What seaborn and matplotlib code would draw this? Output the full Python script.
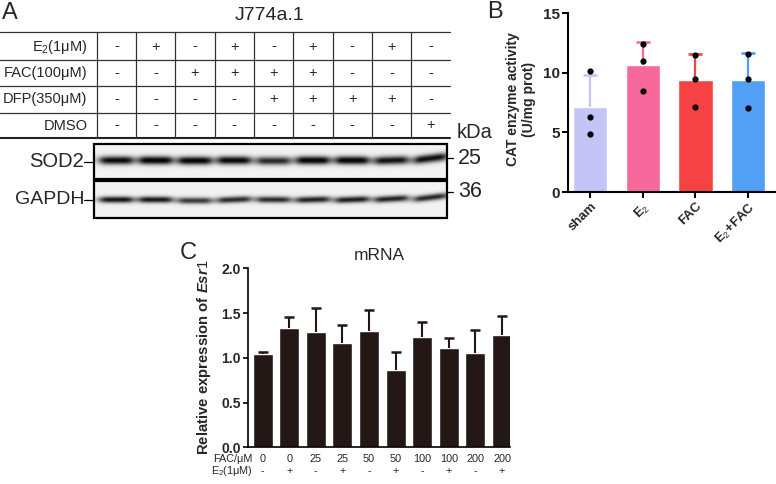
import numpy as np
import pandas as pd
import seaborn as sns
import matplotlib.pyplot as plt
from matplotlib.transforms import blended_transform_factory

sns.set_style('white')
plt.rcParams['font.family'] = ['Liberation Sans', 'DejaVu Sans']
plt.rcParams['mathtext.fontset'] = 'custom'
plt.rcParams['mathtext.rm'] = 'Liberation Sans'
plt.rcParams['mathtext.bf'] = 'Liberation Sans:bold'
plt.rcParams['mathtext.it'] = 'Liberation Sans:italic:bold'

# ---- panel A: treatment table and blot ----
row_labels = ['E$_2$(1μM)', 'FAC(100μM)', 'DFP(350μM)', 'DMSO']
e2_row = ['-', '+', '-', '+', '-', '+', '-', '+', '-']
fac_row = ['-', '-', '+', '+', '+', '+', '-', '-', '-']
dfp_row = ['-', '-', '-', '-', '+', '+', '+', '+', '-']
dmso_row = ['-', '-', '-', '-', '-', '-', '-', '-', '+']
# band darkness per lane (read by eye), vertical offset and tilt
sod2_int = [0.92, 0.97, 0.95, 0.93, 0.78, 0.96, 0.96, 0.88, 0.90]
sod2_dy = [0, 0, 0.3, 0, 0.5, 0, 0, 0, -2.0]
sod2_tilt = [0, 0, 0, 0, 0, 0, 0, -0.03, -0.12]
gapdh_int = [0.88, 0.86, 0.72, 0.78, 0.78, 0.82, 0.84, 0.82, 0.80]
gapdh_dy = [0, 0, 1.0, 0, 0, 0, 0, -0.8, -2.2]
gapdh_tilt = [0, 0, 0, -0.04, 0, -0.03, -0.04, -0.06, -0.12]
markers_kda = ['25', '36']

# ---- panel B: CAT enzyme activity ----
b_groups = ['sham', 'E$_2$', 'FAC', 'E$_2$+FAC']
b_points = {
    'sham': [10.1, 6.3, 4.9],
    'E$_2$': [12.4, 11.0, 8.5],
    'FAC': [11.5, 9.5, 7.15],
    'E$_2$+FAC': [11.6, 9.5, 7.05],
}
b_colors = ['#c4c4f6', '#f7699a', '#f74244', '#529ff6']

# ---- panel C: Esr1 mRNA ----
c_fac = ['0', '0', '25', '25', '50', '50', '100', '100', '200', '200']
c_e2 = ['-', '+', '-', '+', '-', '+', '-', '+', '-', '+']
c_mean = [1.04, 1.33, 1.29, 1.16, 1.30, 0.86, 1.23, 1.11, 1.05, 1.26]
c_upper = [1.07, 1.46, 1.56, 1.37, 1.53, 1.07, 1.40, 1.225, 1.31, 1.47]

fig = plt.figure(figsize=(7.76, 4.84), dpi=100)

ov = fig.add_axes([0, 0, 1, 1])
ov.set_xlim(0, 776)
ov.set_ylim(484, 0)
ov.axis('off')

ov.text(2, 13, 'A', fontsize=17, va='center', ha='left')
ov.text(270, 16, 'J774a.1', fontsize=14, va='center', ha='center')

h_lines = [31.7, 60, 86, 112.7]
for yy in h_lines:
    ov.plot([0, 450], [yy, yy], color='#333333', lw=0.9)
ov.plot([0, 450], [137.5, 137.5], color='#222222', lw=1.5)
col_x0, col_w = 96.7, 39.3
for k in range(9):
    xx = col_x0 + k * col_w
    ov.plot([xx, xx], [31.7, 137.5], color='#333333', lw=0.9)

row_y = [46.5, 73, 99.5, 125.5]
for label, vals, yy in zip(row_labels, [e2_row, fac_row, dfp_row, dmso_row], row_y):
    ov.text(87.5, yy, label, fontsize=10.5, ha='right', va='center')
    for k, v in enumerate(vals):
        ov.text(col_x0 + col_w * (k + 0.5), yy, v, fontsize=10.5, ha='center', va='center')

# blot boxes
lane_x = [col_x0 + col_w * (k + 0.5) for k in range(9)]


def draw_blot(y0, y1, cy, sig, ints, dys, tilts):
    xs = np.linspace(94.3, 446.7, 700)
    ys = np.linspace(y0, y1, 120)
    X, Y = np.meshgrid(xs, ys)
    img = np.full(X.shape, 0.95)
    for cx, it, dy, tl in zip(lane_x, ints, dys, tilts):
        yc = cy + dy + tl * (X - cx)
        prof = np.exp(-((Y - yc) / sig) ** 2) / (1 + ((X - cx) / 16.5) ** 6)
        img -= it * prof * 1.0
    img = np.clip(img, 0.03, 1)
    ov.imshow(img, cmap='gray', vmin=0, vmax=1, extent=[94.3, 446.7, y1, y0],
              aspect='auto', interpolation='bilinear', zorder=1)
    ov.add_patch(plt.Rectangle((94.3, y0), 352.4, y1 - y0, fill=False,
                               ec='black', lw=1.6, zorder=2))


draw_blot(144, 179.3, 161, 4.1, sod2_int, sod2_dy, sod2_tilt)
draw_blot(181, 217.7, 199.5, 3.2, gapdh_int, gapdh_dy, gapdh_tilt)
ov.set_xlim(0, 776)
ov.set_ylim(484, 0)

ov.text(84, 161.5, 'SOD2', fontsize=14.5, ha='right', va='center')
ov.plot([84, 94.3], [161.5, 161.5], color='black', lw=0.9)
ov.text(84, 200, 'GAPDH', fontsize=14, ha='right', va='center')
ov.plot([84, 94.3], [200, 200], color='black', lw=0.9)
ov.text(457, 132.5, 'kDa', fontsize=14.5, ha='left', va='center')
for lab, yy in zip(markers_kda, [158, 191.5]):
    ov.plot([447, 453], [yy, yy], color='black', lw=0.9)
    ov.text(458, yy, lab, fontsize=15.5, ha='left', va='center')


def upper_errorbar(ax, x, y, err, color, capsize, lw):
    eb = ax.errorbar(x, y, yerr=[np.zeros(len(err)), err], fmt='none', ecolor=color,
                     elinewidth=lw, capsize=capsize, capthick=lw + 0.3, zorder=3)
    eb.lines[1][0].set_visible(False)  # hide the cap sitting on the bar top


# ---- panel B ----
rows = [(g, v) for g in b_groups for v in b_points[g]]
dfb = pd.DataFrame(rows, columns=['group', 'value'])
axb = fig.add_axes([568 / 776, 1 - 192 / 484, 208 / 776, 179 / 484])
sns.barplot(data=dfb, x='group', y='value', hue='group', order=b_groups,
            palette=b_colors, errorbar=None, width=0.65, legend=False, ax=axb,
            saturation=1)
stats = dfb.groupby('group', sort=False)['value'].agg(['mean', 'std'])
for i, g in enumerate(b_groups):
    upper_errorbar(axb, [i], [stats.loc[g, 'mean']], [stats.loc[g, 'std']],
                   b_colors[i], 4.8, 1.6)
sns.stripplot(data=dfb, x='group', y='value', order=b_groups, jitter=False,
              color='black', size=4.5, ax=axb, zorder=4)
axb.set_xlim(-0.42, 3.53)
axb.set_ylim(0, 15)
axb.set_yticks([0, 5, 10, 15])
axb.set_xlabel('')
axb.set_ylabel('')
sns.despine(ax=axb)
for s in ['left', 'bottom']:
    axb.spines[s].set_linewidth(1.5)
    axb.spines[s].set_color('black')
axb.tick_params(axis='both', direction='out', length=4, width=1.4, color='black',
                labelsize=11, pad=2, left=True, bottom=True)
for t in axb.get_yticklabels():
    t.set_fontweight('bold')
axb.set_xticks(range(4))
axb.set_xticklabels(b_groups, rotation=45, ha='right', rotation_mode='anchor',
                    fontweight='bold', fontsize=9.5)
fig.text(521 / 776, 1 - 99 / 484, 'CAT enzyme activity\n(U/mg prot)', rotation=90,
         ha='center', va='center', fontsize=10, fontweight='bold', linespacing=1.1)
fig.text(495 / 776, 1 - 12 / 484, 'B', fontsize=17, ha='center', va='center')

# ---- panel C ----
conds = [f + e for f, e in zip(c_fac, c_e2)]
dfc = pd.DataFrame({'cond': conds, 'mean': c_mean})
axc = fig.add_axes([248 / 776, 1 - 447.3 / 484, 262 / 776, 179 / 484])
sns.barplot(data=dfc, x='cond', y='mean', color='#231815', saturation=1,
            errorbar=None, width=0.75, ax=axc)
up = np.array(c_upper) - np.array(c_mean)
upper_errorbar(axc, list(range(len(conds))), c_mean, up, '#231815', 3.6, 1.5)
axc.set_xlim(-0.55, 9.3)
axc.set_ylim(0, 2.0)
axc.set_yticks([0, 0.5, 1.0, 1.5, 2.0])
axc.set_yticklabels(['0.0', '0.5', '1.0', '1.5', '2.0'], fontweight='bold')
axc.set_xticks([])
axc.set_xlabel('')
axc.set_ylabel('')
sns.despine(ax=axc)
for s in ['left', 'bottom']:
    axc.spines[s].set_linewidth(1.2)
    axc.spines[s].set_color('black')
axc.tick_params(axis='y', direction='out', length=3.5, width=1.2, color='black',
                labelsize=10, pad=1.5, left=True)
tr = blended_transform_factory(axc.transData, axc.transAxes)
for i, (f, e) in enumerate(zip(c_fac, c_e2)):
    axc.text(i, -0.068, f, transform=tr, ha='center', va='center', fontsize=7.8)
    axc.text(i, -0.133, e, transform=tr, ha='center', va='center', fontsize=7.8)
fig.text(253 / 776, 1 - 459.5 / 484, 'FAC/μM', ha='right', va='center', fontsize=7.8)
fig.text(253 / 776, 1 - 471.5 / 484, 'E$_2$(1μM)', ha='right', va='center', fontsize=7.8)
axc.set_title('mRNA', fontsize=12.5, pad=6)
fig.text(204 / 776, 1 - 357 / 484, 'Relative expression of $Esr1$', rotation=90,
         ha='center', va='center', fontsize=10.7, fontweight='bold')
fig.text(188 / 776, 1 - 253 / 484, 'C', fontsize=17, ha='center', va='center')

fig.savefig('out.png', dpi=100)
